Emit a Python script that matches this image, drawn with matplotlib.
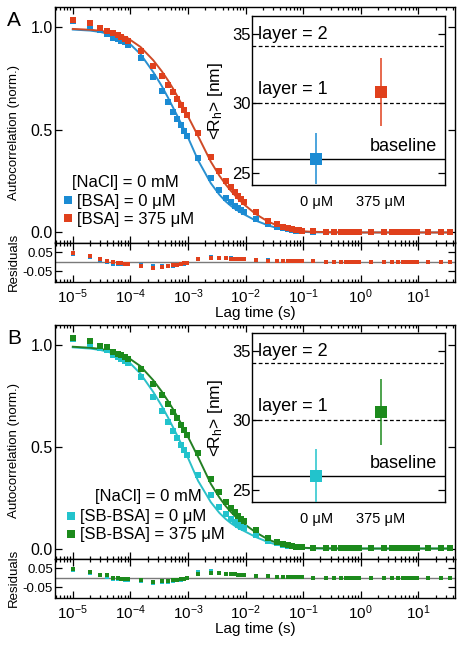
import matplotlib
matplotlib.use("Agg")
import matplotlib.pyplot as plt
from matplotlib.lines import Line2D

plt.rcParams['font.family'] = ['Liberation Sans', 'DejaVu Sans']
plt.rcParams['mathtext.fontset'] = 'custom'
plt.rcParams['mathtext.rm'] = 'Liberation Sans'
plt.rcParams['mathtext.it'] = 'Liberation Sans:italic'
plt.rcParams['axes.unicode_minus'] = False
plt.rcParams['font.size'] = 10

# lag times (s)
lag = [1e-5, 2e-5, 3e-5, 4e-5, 5e-5, 6e-5, 7e-5, 8e-5, 9e-5,
       1.5e-4, 2.5e-4, 3.5e-4, 4.5e-4, 5.5e-4, 6.5e-4, 7.5e-4, 8.5e-4, 9.5e-4,
       1.5e-3, 2.5e-3, 3.5e-3, 4.5e-3, 5.5e-3, 6.5e-3, 7.5e-3, 8.5e-3, 9.5e-3,
       1.5e-2, 2.5e-2, 3.5e-2, 4.5e-2, 5.5e-2, 6.5e-2, 7.5e-2, 8.5e-2, 9.5e-2,
       0.15, 0.25, 0.35, 0.45, 0.55, 0.65, 0.75, 0.85, 0.95,
       1.5, 2.5, 3.5, 4.5, 5.5, 6.5, 7.5, 8.5, 9.5,
       15, 25, 35]
lag_ticks = [1e-5, 1e-4, 1e-3, 1e-2, 1e-1, 1e0, 1e1]

# panel A: [BSA] = 0 uM
a0_data = [1.032, 1.009, 0.988, 0.967, 0.948, 0.944, 0.936, 0.927, 0.917,
           0.852, 0.760, 0.691, 0.636, 0.590, 0.553, 0.522, 0.496, 0.473,
           0.364, 0.264, 0.205, 0.170, 0.147, 0.131, 0.119, 0.109, 0.100,
           0.068, 0.042, 0.028, 0.020, 0.015, 0.012, 0.009, 0.007, 0.005,
           0.002, 0.001, 0.001, 0.001, 0.001, 0.001, 0.001, 0.001, 0.001,
           0.001, 0.001, 0.001, 0.001, 0.001, 0.001, 0.001, 0.001, 0.001,
           0.001, 0.001, 0.001]
a0_fit = [0.990, 0.985, 0.978, 0.970, 0.962, 0.954, 0.946, 0.938, 0.930,
          0.870, 0.782, 0.715, 0.658, 0.610, 0.570, 0.535, 0.505, 0.478,
          0.352, 0.240, 0.185, 0.152, 0.131, 0.116, 0.105, 0.096, 0.088,
          0.058, 0.034, 0.022, 0.015, 0.011, 0.008, 0.006, 0.004, 0.003,
          0.001, 0.000, 0.000, 0.000, 0.000, 0.000, 0.000, 0.000, 0.000,
          0.000, 0.000, 0.000, 0.000, 0.000, 0.000, 0.000, 0.000, 0.000,
          0.000, 0.000, 0.000]
a0_res = [0.042, 0.024, 0.010, -0.003, -0.014, -0.010, -0.010, -0.011, -0.013,
          -0.018, -0.022, -0.024, -0.022, -0.020, -0.017, -0.013, -0.009, -0.005,
          0.014, 0.026, 0.022, 0.019, 0.017, 0.016, 0.015, 0.014, 0.013,
          0.010, 0.008, 0.006, 0.005, 0.004, 0.004, 0.003, 0.003, 0.002,
          0.002, 0.001, 0.001, 0.001, 0.000, 0.001, 0.001, 0.000, 0.001,
          0.001, 0.000, 0.001, 0.001, 0.000, 0.001, 0.000, 0.001, 0.000,
          0.000, 0.001, 0.000]

# panel A: [BSA] = 375 uM
a1_data = [1.039, 1.021, 0.998, 0.984, 0.972, 0.962, 0.953, 0.944, 0.936,
           0.885, 0.810, 0.761, 0.720, 0.683, 0.650, 0.622, 0.597, 0.575,
           0.486, 0.367, 0.298, 0.252, 0.221, 0.197, 0.178, 0.162, 0.148,
           0.100, 0.058, 0.040, 0.029, 0.022, 0.017, 0.013, 0.010, 0.008,
           0.005, 0.003, 0.002, 0.002, 0.001, 0.001, 0.001, 0.001, 0.001,
           0.001, 0.001, 0.001, 0.001, 0.001, 0.001, 0.001, 0.001, 0.001,
           0.001, 0.001, 0.001]
a1_fit = [0.993, 0.989, 0.984, 0.978, 0.972, 0.966, 0.960, 0.954, 0.948,
          0.905, 0.840, 0.787, 0.742, 0.702, 0.666, 0.634, 0.605, 0.579,
          0.470, 0.345, 0.278, 0.235, 0.205, 0.182, 0.164, 0.149, 0.136,
          0.090, 0.052, 0.035, 0.025, 0.019, 0.014, 0.011, 0.008, 0.006,
          0.003, 0.002, 0.001, 0.001, 0.000, 0.000, 0.000, 0.000, 0.000,
          0.000, 0.000, 0.000, 0.000, 0.000, 0.000, 0.000, 0.000, 0.000,
          0.000, 0.000, 0.000]
a1_res = [0.046, 0.032, 0.014, 0.006, 0.000, -0.004, -0.007, -0.010, -0.012,
          -0.020, -0.030, -0.026, -0.022, -0.019, -0.016, -0.012, -0.008, -0.004,
          0.016, 0.022, 0.020, 0.017, 0.016, 0.015, 0.014, 0.013, 0.012,
          0.010, 0.006, 0.005, 0.004, 0.003, 0.003, 0.002, 0.002, 0.002,
          0.002, 0.001, 0.001, 0.001, 0.000, 0.001, 0.001, 0.000, 0.001,
          0.001, 0.000, 0.001, 0.001, 0.000, 0.001, 0.000, 0.001, 0.000,
          0.000, 0.001, 0.000]

# panel B: [SB-BSA] = 0 uM
b0_data = [1.030, 1.008, 0.989, 0.975, 0.952, 0.944, 0.934, 0.924, 0.914,
           0.844, 0.745, 0.678, 0.624, 0.579, 0.542, 0.510, 0.483, 0.459,
           0.361, 0.262, 0.202, 0.168, 0.146, 0.130, 0.117, 0.108, 0.100,
           0.067, 0.039, 0.025, 0.018, 0.013, 0.011, 0.008, 0.007, 0.006,
           0.002, 0.001, 0.001, 0.001, 0.001, 0.001, 0.001, 0.001, 0.001,
           0.001, 0.001, 0.001, 0.001, 0.001, 0.001, 0.001, 0.001, 0.001,
           0.001, 0.001, 0.001]
b0_fit = [0.990, 0.984, 0.977, 0.969, 0.960, 0.951, 0.942, 0.933, 0.924,
          0.860, 0.770, 0.702, 0.645, 0.597, 0.556, 0.520, 0.489, 0.461,
          0.333, 0.228, 0.176, 0.146, 0.126, 0.112, 0.101, 0.093, 0.086,
          0.057, 0.031, 0.019, 0.013, 0.009, 0.007, 0.005, 0.004, 0.003,
          0.001, 0.000, 0.000, 0.000, 0.000, 0.000, 0.000, 0.000, 0.000,
          0.000, 0.000, 0.000, 0.000, 0.000, 0.000, 0.000, 0.000, 0.000,
          0.000, 0.000, 0.000]
b0_res = [0.040, 0.024, 0.012, 0.006, -0.008, -0.007, -0.008, -0.009, -0.010,
          -0.016, -0.025, -0.024, -0.021, -0.018, -0.014, -0.010, -0.006, -0.002,
          0.028, 0.034, 0.026, 0.022, 0.020, 0.018, 0.016, 0.015, 0.014,
          0.010, 0.008, 0.006, 0.005, 0.004, 0.004, 0.003, 0.003, 0.003,
          0.001, 0.001, 0.001, 0.001, 0.000, 0.001, 0.001, 0.000, 0.001,
          0.001, 0.000, 0.001, 0.001, 0.000, 0.001, 0.000, 0.001, 0.000,
          0.000, 0.001, 0.000]

# panel B: [SB-BSA] = 375 uM
b1_data = [1.036, 1.019, 0.997, 0.990, 0.969, 0.959, 0.951, 0.943, 0.935,
           0.885, 0.808, 0.756, 0.711, 0.673, 0.640, 0.610, 0.584, 0.561,
           0.472, 0.344, 0.278, 0.230, 0.200, 0.178, 0.161, 0.147, 0.135,
           0.090, 0.052, 0.034, 0.023, 0.017, 0.013, 0.010, 0.008, 0.006,
           0.003, 0.002, 0.002, 0.001, 0.001, 0.001, 0.001, 0.001, 0.001,
           0.001, 0.001, 0.001, 0.001, 0.001, 0.001, 0.001, 0.001, 0.001,
           0.001, 0.001, 0.001]
b1_fit = [0.993, 0.988, 0.982, 0.976, 0.969, 0.962, 0.955, 0.948, 0.941,
          0.897, 0.828, 0.773, 0.726, 0.686, 0.650, 0.618, 0.589, 0.563,
          0.450, 0.318, 0.252, 0.210, 0.182, 0.161, 0.145, 0.132, 0.121,
          0.080, 0.044, 0.028, 0.019, 0.014, 0.010, 0.008, 0.006, 0.004,
          0.002, 0.001, 0.001, 0.000, 0.000, 0.000, 0.000, 0.000, 0.000,
          0.000, 0.000, 0.000, 0.000, 0.000, 0.000, 0.000, 0.000, 0.000,
          0.000, 0.000, 0.000]
b1_res = [0.043, 0.031, 0.015, 0.014, 0.000, -0.003, -0.004, -0.005, -0.006,
          -0.012, -0.020, -0.017, -0.015, -0.013, -0.010, -0.008, -0.005, -0.002,
          0.022, 0.026, 0.026, 0.020, 0.018, 0.017, 0.016, 0.015, 0.014,
          0.010, 0.008, 0.006, 0.004, 0.003, 0.003, 0.002, 0.002, 0.002,
          0.001, 0.001, 0.001, 0.001, 0.000, 0.001, 0.001, 0.000, 0.001,
          0.001, 0.000, 0.001, 0.001, 0.000, 0.001, 0.000, 0.001, 0.000,
          0.000, 0.001, 0.000]

# insets: mean hydrodynamic radius (nm)
conc_labels = ['0 \u03bcM', '375 \u03bcM']
rh_A = [26.0, 30.8]
rh_A_err = [1.85, 2.45]
rh_B = [26.0, 30.6]
rh_B_err = [1.9, 2.4]
baseline_rh = 26.0
layer1_rh = 30.0
layer2_rh = 34.1

blue, red = '#1b8bd3', '#e0401c'
blue_line, red_line = '#2a90d0', '#cf4a26'
cyan, green = '#22c3cc', '#1c8a1c'
cyan_line, green_line = '#2cc0c8', '#237f23'

W, H = 462, 645
fig = plt.figure(figsize=(4.62, 6.45), dpi=100)


def box(l, t, r, b):
    return [l / W, 1 - b / H, (r - l) / W, (b - t) / H]


def style(ax):
    for s in ax.spines.values():
        s.set_linewidth(1.0)
    ax.tick_params(which='both', direction='in', top=True, right=True, width=0.9)
    ax.tick_params(which='major', length=5)
    ax.tick_params(which='minor', length=2.5)


def panel(top, res_bottom, ins_top, ins_bottom, series, rh, rh_err, legend_pos, nacl_pos, nacl_ha, letter):
    main_bottom = res_bottom - 39.5
    ax = fig.add_axes(box(55, top, 455, main_bottom))
    rax = fig.add_axes(box(55, main_bottom, 455, res_bottom), sharex=ax)
    for data, fit, res, mc, lc, lab in series:
        ax.plot(lag, fit, color=lc, lw=1.4, zorder=2)
        ax.plot(lag, data, 's', color=mc, ms=4.0, mew=0, zorder=3)
    ax.set_xscale('log')
    ax.set_xlim(4.9e-6, 43.6)
    ax.set_xticks(lag_ticks)
    ax.set_ylim(-0.049, 1.10)
    ax.set_yticks([0, 0.5, 1.0])
    ax.set_yticklabels(['0.0', '0.5', '1.0'], fontsize=11.5)
    style(ax)
    ax.tick_params(labelbottom=False, pad=1.5)

    rax.axhline(0, color='#7a7a7a', lw=1.0, zorder=1)
    for data, fit, res, mc, lc, lab in series:
        rax.plot(lag, res, 's', color=mc, ms=2.4, mew=0, zorder=3)
    rax.set_ylim(-0.105, 0.1)
    rax.set_yticks([-0.05, 0.05])
    rax.set_yticklabels(['-0.05', '0.05'], fontsize=9.5)
    style(rax)
    rax.tick_params(pad=1.5)
    rax.tick_params(axis='x', pad=4, labelsize=11)

    handles = [Line2D([], [], marker='s', ls='none', color=s[3], ms=5.5, mew=0) for s in series]
    ax.legend(handles, [s[5] for s in series], loc='upper left', bbox_to_anchor=legend_pos,
              frameon=False, borderpad=0, borderaxespad=0, handlelength=0.7,
              handletextpad=0.2, labelspacing=0.18, fontsize=12)
    ax.text(nacl_pos[0], nacl_pos[1], '[NaCl] = 0 mM', transform=ax.transAxes,
            ha=nacl_ha, va='center', fontsize=12)

    iax = fig.add_axes(box(252, ins_top, 445, ins_bottom))
    iax.set_facecolor('white')
    iax.axhline(layer2_rh, color='k', lw=0.9, ls=(0, (3, 2)))
    iax.axhline(layer1_rh, color='k', lw=0.9, ls=(0, (3, 2)))
    iax.axhline(baseline_rh, color='k', lw=1.0)
    for i in range(2):
        iax.errorbar(i, rh[i], yerr=rh_err[i], fmt='s', ms=9, mew=0,
                     color=series[i][3], elinewidth=1.1, capsize=0, zorder=3)
    iax.set_xlim(-1, 2)
    iax.set_ylim(24.1, 36.3)
    iax.set_xticks([0, 1])
    iax.set_xticklabels(conc_labels, fontsize=10.5)
    iax.set_yticks([25, 30, 35])
    iax.set_yticklabels(['25', '30', '35'], fontsize=12)
    for s in iax.spines.values():
        s.set_linewidth(1.0)
    iax.tick_params(axis='y', direction='in', left=True, right=True, length=5, width=0.9, pad=1)
    iax.tick_params(axis='x', length=0, pad=7)
    iax.set_ylabel('<R$_\\mathrm{h}$> [nm]', fontsize=12.5, labelpad=5)
    iax.text(-0.9, 35.0, 'layer = 2', ha='left', va='center', fontsize=13)
    iax.text(-0.9, 31.0, 'layer = 1', ha='left', va='center', fontsize=13)
    iax.text(1.87, 26.85, 'baseline', ha='right', va='center', fontsize=13)

    fig.text(7 / W, 1 - (top + 13) / H, letter, fontsize=15, ha='left', va='center')
    fig.text(14 / W, 1 - (top + 126) / H, 'Autocorrelation (norm.)', rotation=90,
             ha='center', va='center', fontsize=9.5)
    fig.text(14 / W, 1 - (res_bottom - 20) / H, 'Residuals', rotation=90,
             ha='center', va='center', fontsize=9.5)
    fig.text(255 / W, 1 - (res_bottom + 31) / H, 'Lag time (s)', ha='center', va='center', fontsize=11)


panel(7, 282, 16, 185,
      [(a0_data, a0_fit, a0_res, blue, blue_line, '[BSA] = 0 \u03bcM'),
       (a1_data, a1_fit, a1_res, red, red_line, '[BSA] = 375 \u03bcM')],
      rh_A, rh_A_err, (0.018, 0.205), (0.043, 0.255), 'left', 'A')
panel(325, 598, 333, 502,
      [(b0_data, b0_fit, b0_res, cyan, cyan_line, '[SB-BSA] = 0 \u03bcM'),
       (b1_data, b1_fit, b1_res, green, green_line, '[SB-BSA] = 375 \u03bcM')],
      rh_B, rh_B_err, (0.025, 0.21), (0.3675, 0.265), 'right', 'B')

fig.savefig('out.png', dpi=100)
